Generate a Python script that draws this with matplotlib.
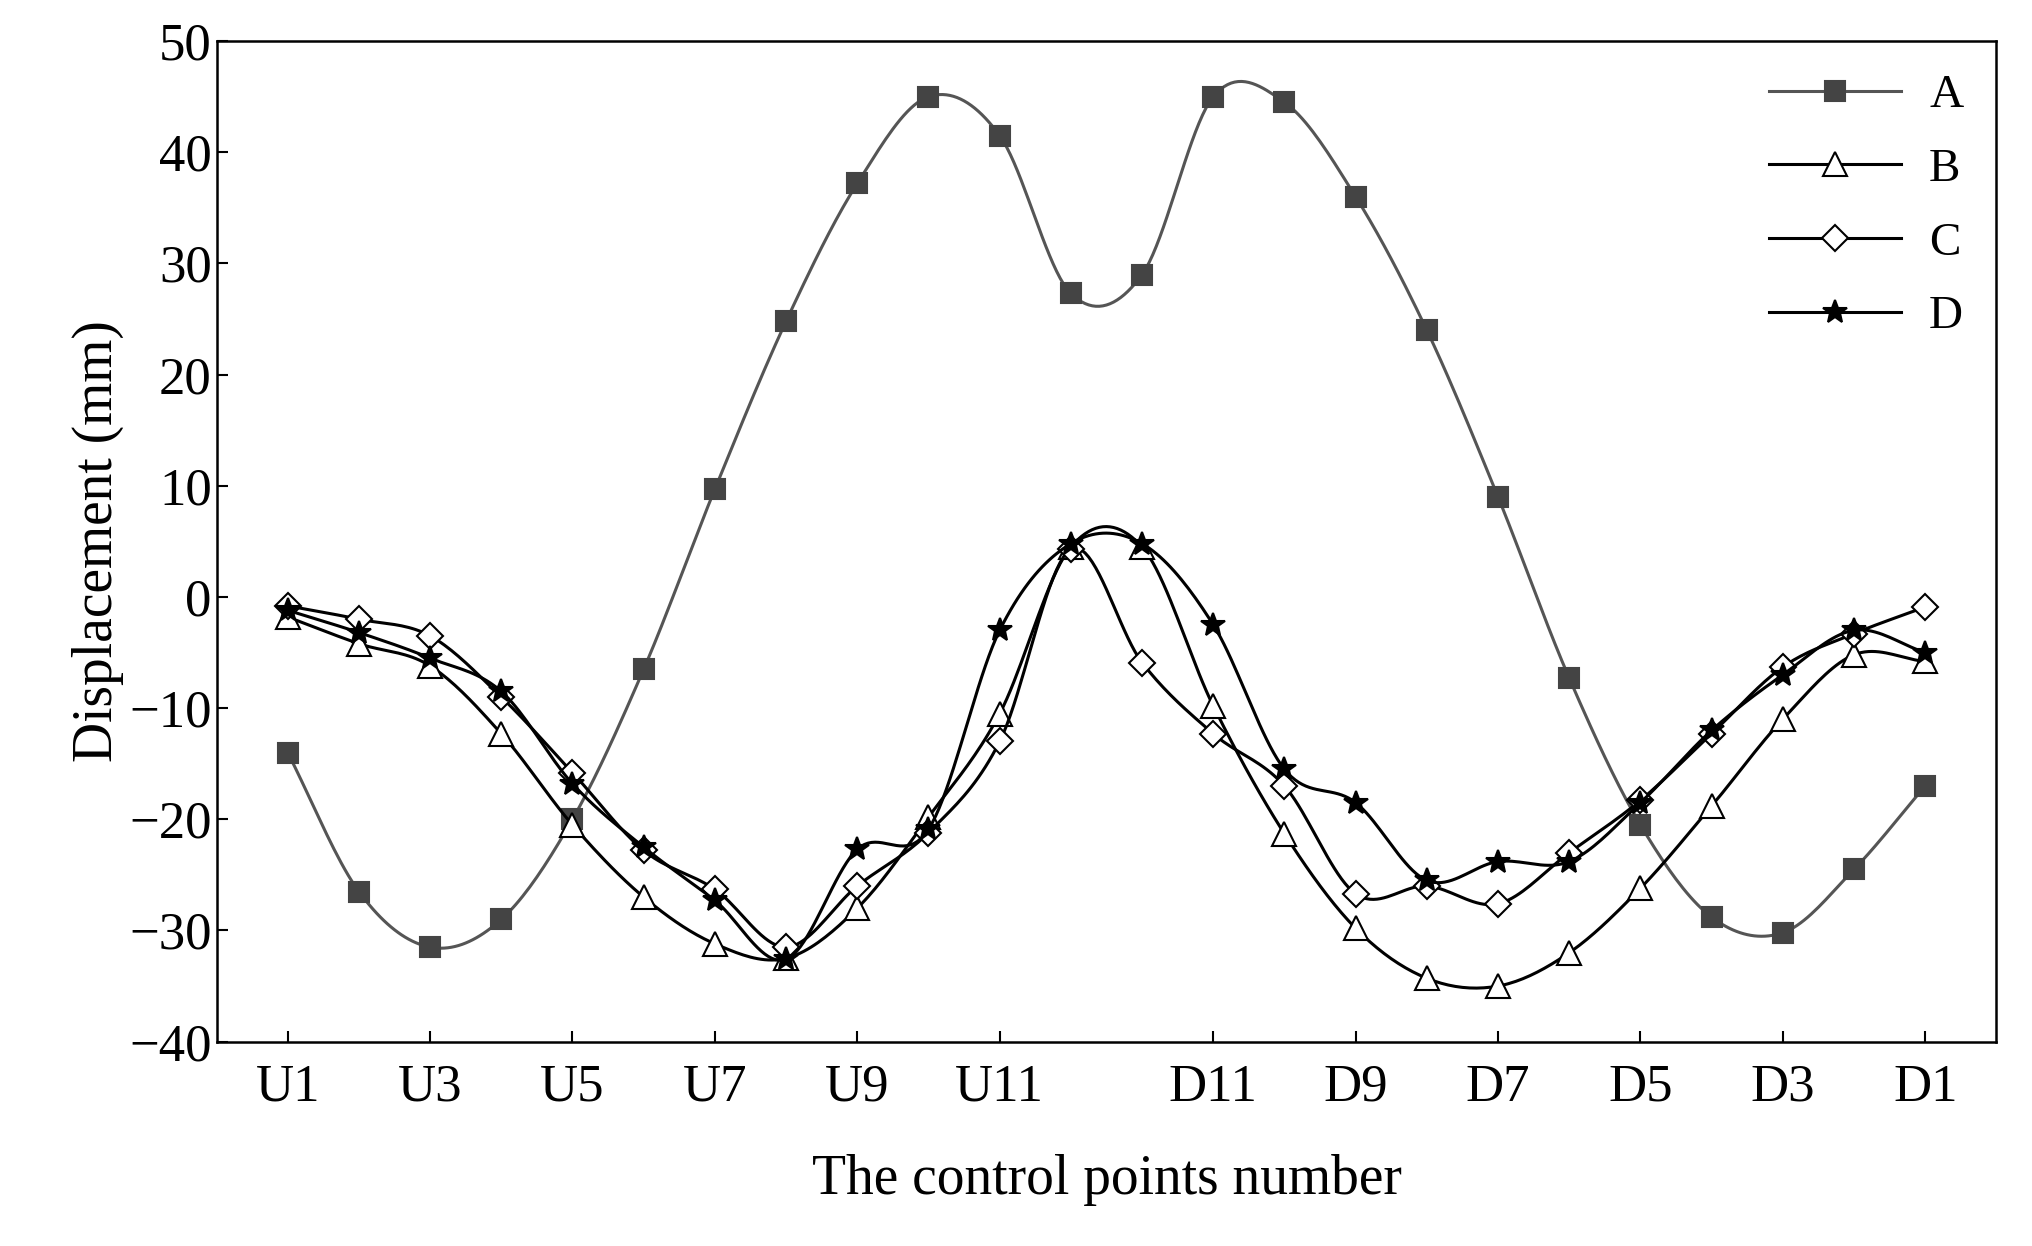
import numpy as np
import matplotlib.pyplot as plt

plt.rcParams['font.family'] = ['Liberation Serif', 'DejaVu Serif']

points = ['U%d' % i for i in range(1, 13)] + ['D%d' % i for i in range(12, 0, -1)]
tick_idx = [0, 2, 4, 6, 8, 10, 13, 15, 17, 19, 21, 23]

A = [-14, -26.5, -31.5, -29, -20, -6.5, 9.7, 24.8, 37.2, 45, 41.5, 27.3,
     29, 45, 44.5, 36, 24, 9, -7.3, -20.5, -28.8, -30.2, -24.5, -17]
B = [-1.8, -4.2, -6.2, -12.3, -20.5, -27, -31.2, -32.5, -28, -19.8, -10.5, 4.5,
     4.5, -9.8, -21.3, -29.8, -34.3, -35, -32, -26.2, -18.8, -11, -5.2, -5.8]
C = [-0.8, -2, -3.5, -9, -15.8, -22.8, -26.3, -31.5, -26, -21.2, -13, 4.3,
     -5.9, -12.3, -17, -26.7, -26, -27.6, -23, -18.3, -12.3, -6.3, -3.3, -0.9]
D = [-1.2, -3.2, -5.5, -8.5, -16.8, -22.5, -27.3, -32.6, -22.7, -20.9, -3, 4.8,
     4.8, -2.5, -15.5, -18.5, -25.5, -23.8, -23.8, -18.5, -12, -7, -3, -5]


def smooth(y, n=20):
    # catmull-rom through the points, just for drawing the curve
    y = np.asarray(y, float)
    p = np.concatenate([[2 * y[0] - y[1]], y, [2 * y[-1] - y[-2]]])
    xs, ys = [], []
    t = np.linspace(0, 1, n, endpoint=False)
    for i in range(len(y) - 1):
        p0, p1, p2, p3 = p[i], p[i + 1], p[i + 2], p[i + 3]
        v = 0.5 * (2 * p1 + (-p0 + p2) * t + (2 * p0 - 5 * p1 + 4 * p2 - p3) * t ** 2
                   + (-p0 + 3 * p1 - 3 * p2 + p3) * t ** 3)
        xs.extend(i + t)
        ys.extend(v)
    xs.append(len(y) - 1)
    ys.append(y[-1])
    return np.array(xs), np.array(ys)


fig = plt.figure(figsize=(20.33, 12.46), dpi=100)
ax = fig.add_axes([0.1065, 0.164, 0.8755, 0.803])
x = np.arange(len(points))

styles = [
    ('A', A, dict(color='#555555', marker='s', mfc='#444444', mec='#444444', ms=14)),
    ('B', B, dict(color='black', marker='^', mfc='white', mec='black', ms=17)),
    ('C', C, dict(color='black', marker='D', mfc='white', mec='black', ms=13)),
    ('D', D, dict(color='black', marker='*', mfc='black', mec='black', ms=18)),
]
for name, y, st in styles:
    sx, sy = smooth(y)
    ax.plot(sx, sy, color=st['color'], lw=2.2)
    ax.plot(x, y, ls='none', marker=st['marker'], mfc=st['mfc'], mec=st['mec'],
            ms=st['ms'], mew=1.5)
    ax.plot([], [], color=st['color'], lw=2.2, marker=st['marker'], mfc=st['mfc'],
            mec=st['mec'], ms=st['ms'], mew=1.5, label=name)

ax.set_xlim(-1, 24)
ax.set_ylim(-40, 50)
ax.set_xticks(tick_idx)
ax.set_xticklabels([points[i] for i in tick_idx])
ax.set_yticks(range(-40, 51, 10))
ax.set_yticklabels(['\u221240', '\u221230', '\u221220', '\u221210', '0', '10', '20', '30', '40', '50'])
ax.tick_params(direction='in', labelsize=38, length=8, width=1.5)
ax.tick_params(axis='x', pad=16)
for s in ax.spines.values():
    s.set_linewidth(1.8)
ax.set_xlabel('The control points number', fontsize=40, labelpad=30)
ax.set_ylabel('Displacement (mm)', fontsize=40, labelpad=4)
ax.legend(loc='upper right', fontsize=34, frameon=False, handlelength=2.8,
          borderaxespad=0.3, labelspacing=0.65, handletextpad=0.6)
fig.savefig('out.png', dpi=100)
